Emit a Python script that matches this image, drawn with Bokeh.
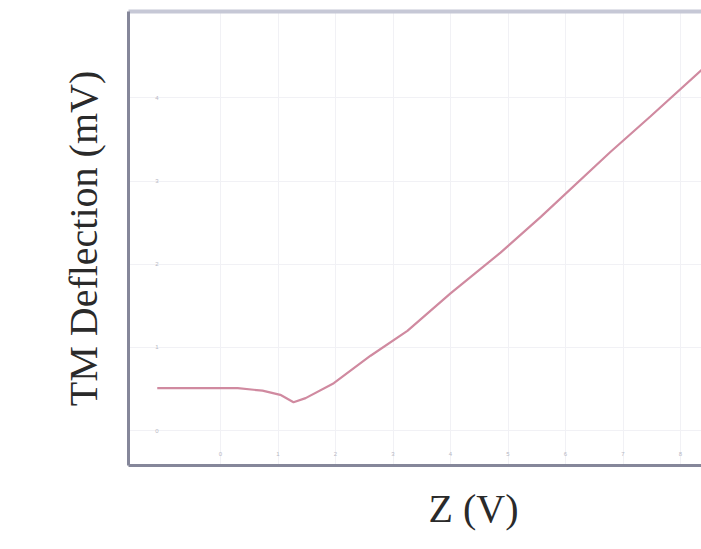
from bokeh.plotting import figure
from bokeh.models import Range1d, LinearAxis, FixedTicker, Title
from bokeh.embed import file_html
from bokeh.resources import INLINE

# Data (arbitrary units; tick labels unreadable)
z_volts = [-1.10, -0.35, 0.30, 0.73, 1.04, 1.27, 1.48, 1.97, 2.61, 3.25, 4.00, 4.87, 5.57, 6.78, 7.48, 8.37, 8.70]
deflection = [0.51, 0.51, 0.51, 0.48, 0.43, 0.34, 0.39, 0.57, 0.90, 1.20, 1.65, 2.14, 2.57, 3.35, 3.78, 4.34, 4.54]
x_ticks = [0, 1, 2, 3, 4, 5, 6, 7, 8]
y_ticks = [0, 1, 2, 3, 4]
x_title = "Z (V)"
y_title = "TM Deflection (mV)"

p = figure(width=701, height=549, output_backend="svg", toolbar_location=None,
           x_range=Range1d(-1.6, 8.365), y_range=Range1d(-0.42, 5.04),
           min_border_left=128, min_border_right=0, min_border_top=11, min_border_bottom=84)
p.outline_line_color = None
p.background_fill_color = "white"
p.border_fill_color = "white"

p.line(z_volts, deflection, line_color="#d08aa0", line_width=2.2)

font = "Liberation Serif"
for ax in (p.xaxis[0], p.yaxis[0]):
    ax.major_tick_out = 0
    ax.major_tick_in = 0
    ax.minor_tick_out = 0
    ax.minor_tick_in = 0
    ax.axis_line_width = 3
    ax.axis_line_color = "#85879a"
    ax.major_label_text_font_size = "6px"
    ax.major_label_text_color = "#b8b8c4"
p.xaxis.ticker = FixedTicker(ticks=x_ticks)
p.yaxis.ticker = FixedTicker(ticks=y_ticks)
p.xaxis.major_label_standoff = -14
p.yaxis.major_label_standoff = -30
p.yaxis.axis_label = y_title
p.yaxis.axis_label_text_font = font
p.yaxis.axis_label_text_font_size = "40px"
p.yaxis.axis_label_text_font_style = "normal"
p.yaxis.axis_label_text_color = "#2a2a2a"
p.yaxis.axis_label_standoff = 46

top = LinearAxis(ticker=FixedTicker(ticks=[]),
                 major_label_standoff=0, major_tick_out=0, major_tick_in=0,
                 minor_tick_out=0, minor_tick_in=0,
                 axis_line_color="#c6c8d6", axis_line_width=4)
p.add_layout(top, "above")

# x title: the original frame continues past the right edge, so the title
# sits right of the visible frame centre
t = Title(text=x_title, align="left", offset=300, text_font=font,
          text_font_size="40px", text_font_style="normal", text_color="#2a2a2a",
          standoff=37)
p.add_layout(t, "below")

p.xgrid.grid_line_color = "#f1f1f5"
p.ygrid.grid_line_color = "#f1f1f5"

open("out.html", "w").write(file_html(p, INLINE))
